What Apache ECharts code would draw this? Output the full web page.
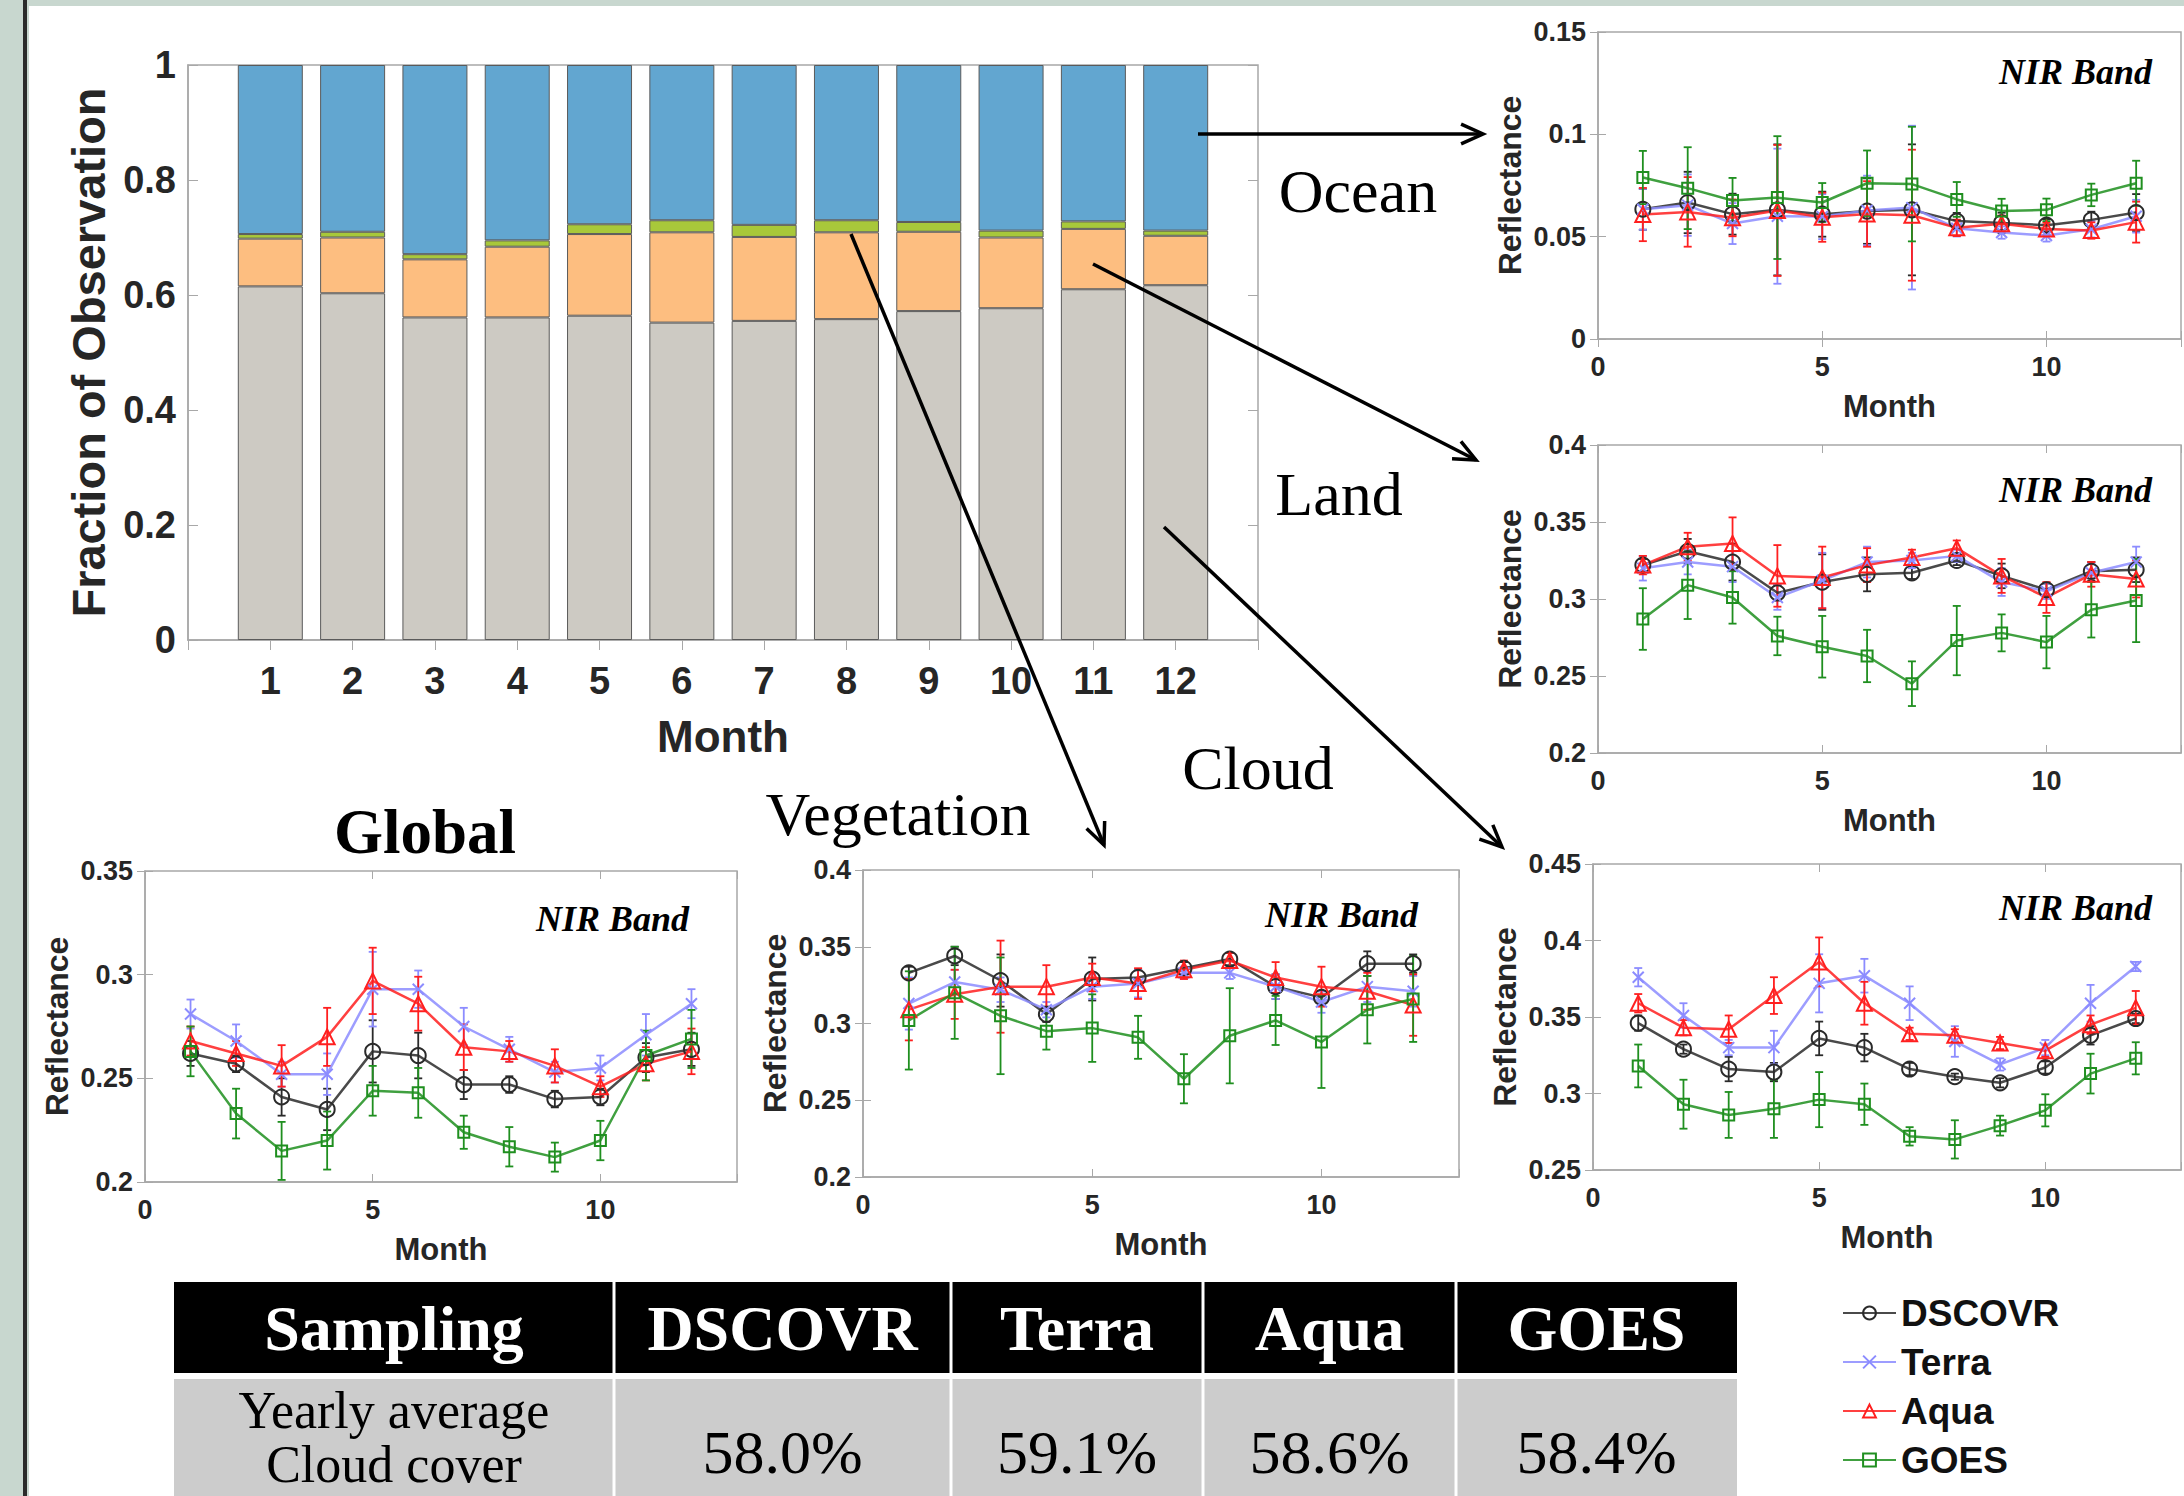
<!DOCTYPE html>
<html>
<head>
<meta charset="utf-8">
<script src="https://cdn.jsdelivr.net/npm/echarts@6/dist/echarts.min.js"></script>
<style>
html,body{margin:0;padding:0;width:2184px;height:1496px;overflow:hidden;background:#c8d7cf;}
#frameLine{position:absolute;left:23px;top:0;width:4px;height:1496px;background:#2b2b2b;}
#panel{position:absolute;left:29px;top:6px;width:2155px;height:1490px;background:#ffffff;}
#chart{position:absolute;left:0;top:0;width:2184px;height:1496px;}
</style>
</head>
<body>
<div id="frameLine"></div>
<div id="panel"></div>
<div id="chart"></div>
<script>
// ---------------- DATA ----------------
const months = [1,2,3,4,5,6,7,8,9,10,11,12];
const barAxisTicks = ['0','1','2','3','4','5','6','7','8','9','10','11','12','13'];
const coverClasses = ['Cloud','Land','Vegetation','Ocean'];
const fracCloud      = [0.615,0.603,0.561,0.561,0.564,0.552,0.555,0.558,0.572,0.577,0.610,0.617];
const fracLand       = [0.083,0.097,0.101,0.123,0.142,0.157,0.146,0.151,0.138,0.123,0.105,0.086];
const fracVegetation = [0.008,0.010,0.009,0.011,0.017,0.021,0.021,0.021,0.017,0.012,0.013,0.009];
const fracOcean      = [0.294,0.290,0.329,0.305,0.277,0.270,0.278,0.270,0.273,0.288,0.272,0.288];

const satellites = ['DSCOVR','Terra','Aqua','GOES'];

const globalDscovr    = [0.262,0.257,0.241,0.235,0.263,0.261,0.247,0.247,0.240,0.241,0.260,0.264];
const globalDscovrErr = [0.006,0.004,0.009,0.010,0.015,0.011,0.007,0.004,0.004,0.004,0.007,0.008];
const globalTerra     = [0.281,0.268,0.252,0.252,0.293,0.293,0.275,0.264,0.253,0.255,0.271,0.286];
const globalTerraErr  = [0.007,0.008,0.006,0.010,0.018,0.009,0.009,0.006,0.005,0.006,0.010,0.007];
const globalAqua      = [0.268,0.262,0.256,0.270,0.297,0.286,0.265,0.263,0.256,0.246,0.257,0.263];
const globalAquaErr   = [0.007,0.006,0.010,0.014,0.016,0.013,0.011,0.005,0.008,0.005,0.008,0.011];
const globalGoes      = [0.263,0.233,0.215,0.220,0.244,0.243,0.224,0.217,0.212,0.220,0.261,0.269];
const globalGoesErr   = [0.012,0.012,0.014,0.014,0.012,0.012,0.008,0.0095,0.007,0.0095,0.012,0.014];

const vegDscovr    = [0.333,0.344,0.328,0.306,0.329,0.330,0.336,0.342,0.324,0.317,0.339,0.339];
const vegDscovrErr = [0.004,0.006,0.017,0.005,0.014,0.005,0.004,0.004,0.008,0.004,0.008,0.006];
const vegTerra     = [0.313,0.327,0.322,0.309,0.324,0.326,0.333,0.333,0.324,0.314,0.324,0.321];
const vegTerraErr  = [0.017,0.008,0.008,0.005,0.008,0.009,0.004,0.004,0.008,0.007,0.010,0.010];
const vegAqua      = [0.309,0.319,0.324,0.324,0.330,0.326,0.335,0.341,0.330,0.324,0.321,0.312];
const vegAquaErr   = [0.020,0.016,0.030,0.014,0.009,0.010,0.006,0.005,0.010,0.013,0.012,0.020];
const vegGoes      = [0.302,0.320,0.305,0.295,0.297,0.291,0.264,0.292,0.302,0.288,0.309,0.316];
const vegGoesErr   = [0.032,0.030,0.038,0.012,0.022,0.014,0.016,0.031,0.016,0.030,0.022,0.028];

const oceanDscovr    = [0.0634,0.0667,0.0610,0.0631,0.0610,0.0625,0.0631,0.0576,0.0567,0.0556,0.0582,0.0618];
const oceanDscovrErr = [0.010,0.015,0.010,0.032,0.011,0.016,0.032,0.004,0.005,0.003,0.004,0.009];
const oceanTerra     = [0.0634,0.0654,0.0564,0.0600,0.0598,0.0628,0.0642,0.0541,0.0520,0.0506,0.0536,0.0600];
const oceanTerraErr  = [0.010,0.015,0.010,0.033,0.011,0.017,0.040,0.004,0.003,0.003,0.004,0.008];
const oceanAqua      = [0.0608,0.0621,0.0592,0.0628,0.0595,0.0611,0.0605,0.0543,0.0563,0.0538,0.0530,0.0571];
const oceanAquaErr   = [0.013,0.017,0.009,0.032,0.012,0.016,0.032,0.004,0.004,0.003,0.004,0.010];
const oceanGoes      = [0.0789,0.0737,0.0677,0.0691,0.0667,0.0761,0.0757,0.0682,0.0625,0.0631,0.0704,0.0761];
const oceanGoesErr   = [0.013,0.020,0.011,0.030,0.0095,0.016,0.028,0.0085,0.006,0.0055,0.0055,0.011];

const landDscovr    = [0.322,0.331,0.324,0.304,0.311,0.316,0.317,0.325,0.315,0.306,0.318,0.319];
const landDscovrErr = [0.004,0.008,0.012,0.005,0.018,0.011,0.004,0.003,0.008,0.004,0.006,0.008];
const landTerra     = [0.320,0.324,0.321,0.301,0.312,0.324,0.325,0.328,0.311,0.305,0.317,0.324];
const landTerraErr  = [0.008,0.008,0.010,0.008,0.018,0.010,0.005,0.004,0.009,0.005,0.006,0.010];
const landAqua      = [0.322,0.334,0.336,0.315,0.314,0.322,0.327,0.333,0.315,0.301,0.316,0.313];
const landAquaErr   = [0.006,0.009,0.017,0.020,0.020,0.011,0.005,0.005,0.011,0.010,0.008,0.012];
const landGoes      = [0.287,0.309,0.301,0.276,0.269,0.263,0.245,0.273,0.278,0.272,0.293,0.299];
const landGoesErr   = [0.020,0.022,0.017,0.0125,0.020,0.017,0.0145,0.0225,0.012,0.017,0.018,0.027];

const cloudDscovr    = [0.346,0.329,0.316,0.314,0.336,0.330,0.316,0.311,0.307,0.317,0.338,0.349];
const cloudDscovrErr = [0.005,0.003,0.008,0.006,0.011,0.009,0.004,0.002,0.003,0.004,0.006,0.003];
const cloudTerra     = [0.376,0.351,0.330,0.330,0.372,0.377,0.359,0.334,0.319,0.330,0.359,0.383];
const cloudTerraErr  = [0.006,0.008,0.005,0.011,0.019,0.011,0.011,0.010,0.004,0.005,0.012,0.003];
const cloudAqua      = [0.359,0.343,0.342,0.364,0.386,0.359,0.339,0.338,0.333,0.328,0.345,0.356];
const cloudAquaErr   = [0.006,0.005,0.009,0.012,0.016,0.014,0.004,0.004,0.004,0.004,0.006,0.011];
const cloudGoes      = [0.318,0.293,0.286,0.290,0.296,0.293,0.272,0.270,0.279,0.289,0.313,0.323];
const cloudGoesErr   = [0.014,0.016,0.015,0.019,0.018,0.0135,0.006,0.0125,0.0065,0.0105,0.013,0.0105];

const tableHeader = ['Sampling','DSCOVR','Terra','Aqua','GOES'];
const tableRowLabel = ['Yearly average','Cloud cover'];
const tableValues = ['58.0%','59.1%','58.6%','58.4%'];

const regionLabels = ['Ocean','Land','Cloud','Vegetation'];
const globalTitle = 'Global';
const bandLabel = 'NIR Band';

// ---------------- STYLE / LAYOUT ----------------
const SANS = "Arial, 'Liberation Sans', Helvetica, sans-serif";
const SERIF = "'Times New Roman', 'Liberation Serif', Times, serif";
const AX = '#a8a8a8';
const TXT = '#262626';
const barColors = {Cloud:'#cdcac3', Land:'#fdbe80', Vegetation:'#a8c83a', Ocean:'#62a6d0'};
const satStyle = {
  DSCOVR: {color:'#2a2a2a', symbol:'circle', size:15},
  Terra:  {color:'#8c8cff', symbol:'path://M0,0L10,10M10,0L0,10', size:11},
  Aqua:   {color:'#ff1f1f', symbol:'triangle', size:15},
  GOES:   {color:'#1f8f1f', symbol:'rect', size:11}
};

const reflPanels = [
  {grid:{left:145, top:871, width:592, height:311}, ymin:0.2,  ymax:0.35,
   means:[globalDscovr,globalTerra,globalAqua,globalGoes], errs:[globalDscovrErr,globalTerraErr,globalAquaErr,globalGoesErr], nir:[689,919]},
  {grid:{left:863, top:870, width:596, height:307}, ymin:0.2,  ymax:0.4,
   means:[vegDscovr,vegTerra,vegAqua,vegGoes], errs:[vegDscovrErr,vegTerraErr,vegAquaErr,vegGoesErr], nir:[1418,915]},
  {grid:{left:1598, top:32, width:593, height:307}, ymin:0,    ymax:0.15,
   means:[oceanDscovr,oceanTerra,oceanAqua,oceanGoes], errs:[oceanDscovrErr,oceanTerraErr,oceanAquaErr,oceanGoesErr], nir:[2152,72]},
  {grid:{left:1598, top:445, width:593, height:308}, ymin:0.2, ymax:0.4,
   means:[landDscovr,landTerra,landAqua,landGoes], errs:[landDscovrErr,landTerraErr,landAquaErr,landGoesErr], nir:[2152,490]},
  {grid:{left:1593, top:864, width:593, height:306}, ymin:0.25, ymax:0.45,
   means:[cloudDscovr,cloudTerra,cloudAqua,cloudGoes], errs:[cloudDscovrErr,cloudTerraErr,cloudAquaErr,cloudGoesErr], nir:[2152,908]}
];

const grids = [];
const xAxes = [];
const yAxes = [];
const series = [];
const graphics = [];

// --- bar chart grid (index 0)
grids.push({left:188, top:65, width:1070, height:575, show:true, borderColor:AX, borderWidth:1.5, backgroundColor:'transparent'});
xAxes.push({
  gridIndex:0, type:'category', data:barAxisTicks, boundaryGap:false,
  name:'Month', nameLocation:'middle', nameGap:74,
  nameTextStyle:{fontFamily:SANS, fontWeight:'bold', fontSize:44, color:TXT},
  axisLine:{onZero:false, lineStyle:{color:AX, width:1.5}},
  axisTick:{show:false},
  axisLabel:{fontFamily:SANS, fontWeight:'bold', fontSize:38, color:TXT, margin:22, interval:0,
             formatter:(v, i) => (i>=1 && i<=12) ? v : ''},
  splitLine:{show:false}
});
xAxes.push({gridIndex:0, type:'value', position:'top', min:0, max:13, interval:1,
  axisLine:{show:false}, axisLabel:{show:false}, splitLine:{show:false},
  axisTick:{inside:true, length:10, lineStyle:{color:AX}}});
yAxes.push({
  gridIndex:0, type:'value', min:0, max:1, interval:0.2,
  name:'Fraction of Observation', nameLocation:'middle', nameGap:76,
  nameTextStyle:{fontFamily:SANS, fontWeight:'bold', fontSize:47, color:TXT},
  axisLine:{lineStyle:{color:AX, width:1.5}},
  axisTick:{inside:true, length:10, lineStyle:{color:AX}},
  axisLabel:{fontFamily:SANS, fontWeight:'bold', fontSize:38, color:TXT, margin:12},
  splitLine:{show:false}
});
yAxes.push({gridIndex:0, type:'value', position:'right', min:0, max:1, interval:0.2,
  axisLine:{show:false}, axisLabel:{show:false}, splitLine:{show:false},
  axisTick:{inside:true, length:10, lineStyle:{color:AX}}});

const fracSeries = [fracCloud, fracLand, fracVegetation, fracOcean];
coverClasses.forEach((cls, k) => {
  series.push({
    type:'bar', name:cls, xAxisIndex:0, yAxisIndex:0, stack:'frac', barWidth:65,
    data: [null].concat(fracSeries[k], [null]),
    itemStyle:{color:barColors[cls], borderColor:'#5a5a5a', borderWidth:1},
    silent:true
  });
});

// --- reflectance panels
function renderErr(params, api) {
  const x = api.value(0), lo = api.value(1), hi = api.value(2);
  const p1 = api.coord([x, lo]);
  const p2 = api.coord([x, hi]);
  const w = 4;
  const st = {stroke: api.visual('color'), lineWidth: 1.8, fill: null};
  return {type:'group', children:[
    {type:'line', shape:{x1:p1[0], y1:p1[1], x2:p2[0], y2:p2[1]}, style:st},
    {type:'line', shape:{x1:p1[0]-w, y1:p1[1], x2:p1[0]+w, y2:p1[1]}, style:st},
    {type:'line', shape:{x1:p2[0]-w, y1:p2[1], x2:p2[0]+w, y2:p2[1]}, style:st}
  ]};
}

reflPanels.forEach((p, idx) => {
  const g = idx + 1;
  grids.push(Object.assign({show:true, borderColor:AX, borderWidth:1.5, backgroundColor:'transparent'}, p.grid));
  xAxes.push({
    gridIndex:g, type:'value', min:0, max:13, interval:5,
    name:'Month', nameLocation:'middle', nameGap:52,
    nameTextStyle:{fontFamily:SANS, fontWeight:'bold', fontSize:31, color:TXT},
    axisLine:{onZero:false, lineStyle:{color:AX, width:1.5}},
    axisTick:{inside:true, length:8, lineStyle:{color:AX}},
    axisLabel:{fontFamily:SANS, fontWeight:'bold', fontSize:27, color:TXT, margin:14,
               formatter:v => (v <= 12 ? String(v) : '')},
    splitLine:{show:false}
  });
  xAxes.push({gridIndex:g, type:'value', position:'top', min:0, max:13, interval:5,
    axisLine:{show:false}, axisLabel:{show:false}, splitLine:{show:false},
    axisTick:{inside:true, length:8, lineStyle:{color:AX}}});
  yAxes.push({
    gridIndex:g, type:'value', min:p.ymin, max:p.ymax, interval:0.05,
    name:'Reflectance', nameLocation:'middle', nameGap:72,
    nameTextStyle:{fontFamily:SANS, fontWeight:'bold', fontSize:32, color:TXT},
    axisLine:{lineStyle:{color:AX, width:1.5}},
    axisTick:{inside:true, length:8, lineStyle:{color:AX}},
    axisLabel:{fontFamily:SANS, fontWeight:'bold', fontSize:27, color:TXT, margin:12},
    splitLine:{show:false}
  });
  yAxes.push({gridIndex:g, type:'value', position:'right', min:p.ymin, max:p.ymax, interval:0.05,
    axisLine:{show:false}, axisLabel:{show:false}, splitLine:{show:false},
    axisTick:{inside:true, length:8, lineStyle:{color:AX}}});

  satellites.forEach((sat, s) => {
    const st = satStyle[sat];
    const mean = p.means[s], err = p.errs[s];
    series.push({
      type:'custom', name:sat + ' error', xAxisIndex:2*g, yAxisIndex:2*g,
      data: months.map((m,i) => [m, mean[i] - err[i], mean[i] + err[i]]),
      encode:{x:0, y:[1,2]}, renderItem:renderErr,
      itemStyle:{color:st.color, opacity:0.85}, silent:true, z:2
    });
    series.push({
      type:'line', name:sat, xAxisIndex:2*g, yAxisIndex:2*g,
      data: months.map((m,i) => [m, mean[i]]),
      symbol:st.symbol, symbolSize:st.size, showAllSymbols:true,
      itemStyle:{color:'rgba(255,255,255,0)', borderColor:st.color, borderWidth:2},
      lineStyle:{color:st.color, width:2.5, opacity:0.85},
      silent:true, z:3
    });
  });

  graphics.push({type:'text', z:10, style:{
    text:bandLabel, x:p.nir[0], y:p.nir[1], fill:'#000',
    font:"italic bold 36px " + SERIF, textAlign:'right', verticalAlign:'middle', textVerticalAlign:'middle'}});
});

// --- region labels and arrows
const labelPos = [[1358,191],[1339,494],[1258,768],[898,814]];
regionLabels.forEach((t, i) => {
  graphics.push({type:'text', z:10, style:{text:t, x:labelPos[i][0], y:labelPos[i][1], fill:'#000',
    font:"62px " + SERIF, textAlign:'center', verticalAlign:'middle', textVerticalAlign:'middle'}});
});
graphics.push({type:'text', z:10, style:{text:globalTitle, x:425, y:832, fill:'#000',
  font:"bold 63px " + SERIF, textAlign:'center', verticalAlign:'middle', textVerticalAlign:'middle'}});

const arrows = [
  [1198,134,1483,134],
  [1093,264,1476,460],
  [851,234,1104,845],
  [1164,527,1502,847]
];
arrows.forEach(a => {
  const [x1,y1,x2,y2] = a;
  const th = Math.atan2(y2-y1, x2-x1), L = 24, sp = 0.42;
  graphics.push({type:'line', z:11, shape:{x1,y1,x2,y2}, style:{stroke:'#000', lineWidth:3.5}});
  graphics.push({type:'polyline', z:11, shape:{points:[
    [x2 - L*Math.cos(th-sp), y2 - L*Math.sin(th-sp)], [x2,y2],
    [x2 - L*Math.cos(th+sp), y2 - L*Math.sin(th+sp)]]},
    style:{stroke:'#000', lineWidth:3.5, fill:null}});
});

// --- table
const colEdges = [174, 614, 951, 1203, 1456, 1737];
const headTop = 1282, headBot = 1373, bodyTop = 1379, bodyBot = 1500;
graphics.push({type:'rect', z:5, shape:{x:colEdges[0], y:headTop, width:colEdges[5]-colEdges[0], height:headBot-headTop}, style:{fill:'#000'}});
graphics.push({type:'rect', z:5, shape:{x:colEdges[0], y:bodyTop, width:colEdges[5]-colEdges[0], height:bodyBot-bodyTop}, style:{fill:'#cccccc'}});
for (let c = 1; c < 5; c++) {
  graphics.push({type:'line', z:6, shape:{x1:colEdges[c], y1:headTop, x2:colEdges[c], y2:bodyBot}, style:{stroke:'#ffffff', lineWidth:3}});
}
tableHeader.forEach((h, c) => {
  graphics.push({type:'text', z:7, style:{text:h, x:(colEdges[c]+colEdges[c+1])/2, y:1328, fill:'#fff',
    font:"bold 64px " + SERIF, textAlign:'center', verticalAlign:'middle', textVerticalAlign:'middle'}});
});
graphics.push({type:'text', z:7, style:{text:tableRowLabel.join('\n'), x:(colEdges[0]+colEdges[1])/2, y:1437, fill:'#000',
  font:"52px " + SERIF, lineHeight:54, textAlign:'center', verticalAlign:'middle', textVerticalAlign:'middle'}});
tableValues.forEach((v, c) => {
  graphics.push({type:'text', z:7, style:{text:v, x:(colEdges[c+1]+colEdges[c+2])/2, y:1452, fill:'#000',
    font:"62px " + SERIF, textAlign:'center', verticalAlign:'middle', textVerticalAlign:'middle'}});
});

const chart = echarts.init(document.getElementById('chart'), null, {renderer:'svg', width:2184, height:1496});
chart.setOption({
  animation:false,
  backgroundColor:'transparent',
  grid:grids,
  xAxis:xAxes,
  yAxis:yAxes,
  legend:{
    data:satellites, orient:'vertical', left:1837, top:1288,
    itemWidth:53, itemHeight:16, itemGap:9, selectedMode:false,
    textStyle:{fontFamily:SANS, fontWeight:'bold', fontSize:37, color:'#111', lineHeight:40}
  },
  graphic:graphics,
  series:series
});
</script>
</body>
</html>
